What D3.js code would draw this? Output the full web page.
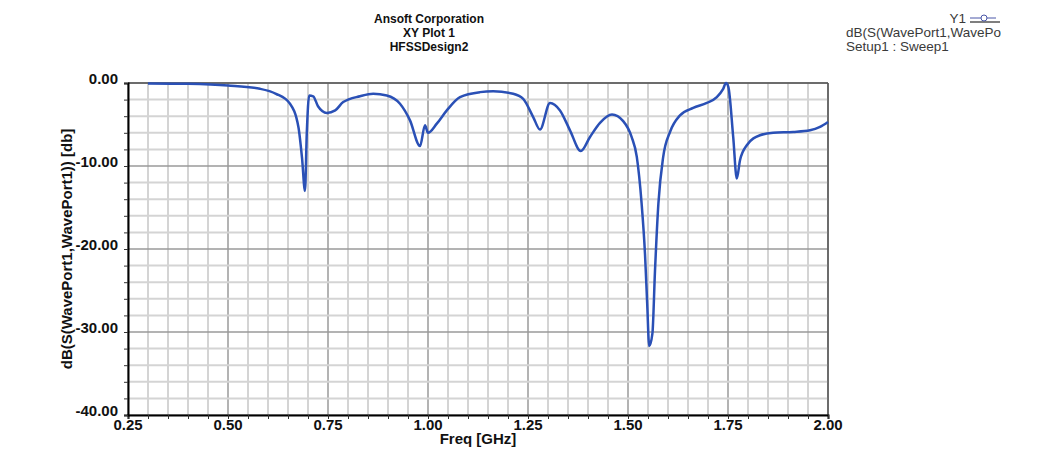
<!DOCTYPE html>
<html>
<head>
<meta charset="utf-8">
<script src="https://cdn.jsdelivr.net/npm/d3@7"></script>
<style>
  body { margin: 0; background: #fff; }
  svg { display: block; font-family: "Liberation Sans", Arial, sans-serif; }
  .tick-label { font-size: 15px; font-weight: bold; fill: #111; }
  .title { font-size: 12px; font-weight: bold; fill: #111; }
  .axis-title { font-size: 15px; font-weight: bold; fill: #111; }
  .legend { font-size: 13.5px; fill: #3a3a3a; }
</style>
</head>
<body>
<svg id="chart" width="1043" height="452"></svg>
<script>
// frequency sweep, GHz
var freq = [0.30, 0.40, 0.50, 0.58, 0.62, 0.655, 0.676, 0.685, 0.6925, 0.697, 0.703, 0.713, 0.725, 0.747, 0.768,
  0.788, 0.83, 0.863, 0.897, 0.93, 0.955, 0.98, 0.9925, 1.0, 1.022, 1.047, 1.08, 1.13, 1.163, 1.213, 1.238,
  1.263, 1.28, 1.305, 1.33, 1.355, 1.382, 1.405, 1.43, 1.46, 1.488, 1.509, 1.522, 1.534, 1.5425, 1.548, 1.553,
  1.561, 1.5675, 1.576, 1.588, 1.605, 1.63, 1.663, 1.697, 1.722, 1.738, 1.745, 1.751, 1.763, 1.772, 1.78,
  1.797, 1.83, 1.863, 1.913, 1.955, 1.98, 2.0];
// dB(S(WavePort1,WavePort1))
var s11 = [-0.05, -0.1, -0.3, -0.7, -1.3, -2.5, -5.3, -9.0, -13.0, -6.0, -1.5, -1.6, -2.8, -3.6, -3.3,
  -2.3, -1.6, -1.3, -1.5, -2.5, -4.5, -7.6, -5.1, -6.0, -4.9, -3.3, -1.7, -1.1, -1.0, -1.3, -1.9,
  -4.1, -5.6, -2.4, -3.3, -5.7, -8.2, -6.5, -4.8, -3.8, -4.6, -6.5, -8.9, -14.5, -20.6, -26.6, -31.7,
  -30.2, -22.6, -14.5, -8.9, -5.9, -3.9, -3.0, -2.4, -1.7, -0.7, 0.0, -0.5, -6.5, -11.5, -9.3,
  -7.5, -6.3, -6.0, -5.9, -5.7, -5.3, -4.7];
var xTicks = [0.25, 0.50, 0.75, 1.00, 1.25, 1.50, 1.75, 2.00];
var yTicks = [0, -10, -20, -30, -40];
var titleLines = ['Ansoft Corporation', 'XY Plot 1', 'HFSSDesign2'];
var legendLines = ['dB(S(WavePort1,WavePort1))', 'Setup1 : Sweep1'];

var svg = d3.select('#chart');
var margins = { top: 83, left: 128, right: 215, bottom: 37 };
var width = +svg.attr('width');
var height = +svg.attr('height');

var x = d3.scaleLinear().domain([0.25, 2.0]).range([margins.left, width - margins.right]);
var y = d3.scaleLinear().domain([-40, 0]).range([height - margins.bottom, margins.top]);

var minorX = d3.range(0.25, 2.0001, 0.05);
var minorY = d3.range(-40, 0.0001, 2);

// grid
var grid = svg.append('g').attr('class', 'grid');
grid.selectAll('line.gx')
  .data(minorX)
  .enter()
  .append('line')
  .attr('x1', d => x(d)).attr('x2', d => x(d))
  .attr('y1', y(0)).attr('y2', y(-40))
  .attr('stroke', (d, i) => i % 5 === 0 ? '#9a9a9a' : '#d4d4d4')
  .attr('stroke-width', (d, i) => i % 5 === 0 ? 1.5 : 2);
grid.selectAll('line.gy')
  .data(minorY)
  .enter()
  .append('line')
  .attr('y1', d => y(d)).attr('y2', d => y(d))
  .attr('x1', x(0.25)).attr('x2', x(2.0))
  .attr('stroke', (d, i) => i % 5 === 0 ? '#9a9a9a' : '#d4d4d4')
  .attr('stroke-width', (d, i) => i % 5 === 0 ? 1.5 : 2);

// frame top / right
svg.append('line')
  .attr('x1', x(0.25)).attr('x2', x(2.0)).attr('y1', y(0)).attr('y2', y(0))
  .attr('stroke', '#555').attr('stroke-width', 1.5);
svg.append('line')
  .attr('x1', x(2.0)).attr('x2', x(2.0)).attr('y1', y(0)).attr('y2', y(-40))
  .attr('stroke', '#555').attr('stroke-width', 1.5);

// axes
var xAxis = d3.axisBottom(x).tickValues(minorX).tickSize(4).tickFormat('');
var yAxis = d3.axisLeft(y).tickValues(minorY).tickSize(4).tickFormat('');

var gx = svg.append('g')
  .attr('transform', 'translate(0,' + y(-40) + ')')
  .call(xAxis);
gx.select('.domain').attr('stroke', '#000').attr('stroke-width', 2);
gx.selectAll('.tick line').attr('stroke', '#333');

var gy = svg.append('g')
  .attr('transform', 'translate(' + x(0.25) + ',0)')
  .call(yAxis);
gy.select('.domain').attr('stroke', '#000').attr('stroke-width', 2);
gy.selectAll('.tick line').attr('stroke', '#333');

svg.append('g').selectAll('text')
  .data(xTicks)
  .enter()
  .append('text')
  .attr('class', 'tick-label')
  .attr('x', d => x(d))
  .attr('y', y(-40) + 15)
  .attr('text-anchor', 'middle')
  .text(d => d.toFixed(2));

svg.append('g').selectAll('text')
  .data(yTicks)
  .enter()
  .append('text')
  .attr('class', 'tick-label')
  .attr('x', x(0.25) - 10)
  .attr('y', d => y(d) + 1)
  .attr('text-anchor', 'end')
  .text(d => d.toFixed(2));

// curve
var line = d3.line()
  .x((d, i) => x(freq[i]))
  .y(d => y(d))
  .curve(d3.curveMonotoneX);

svg.append('path')
  .datum(s11)
  .attr('d', line)
  .attr('fill', 'none')
  .attr('stroke', '#2a50b6')
  .attr('stroke-width', 2.5)
  .attr('stroke-linejoin', 'round');

// titles
svg.append('g').selectAll('text')
  .data(titleLines)
  .enter()
  .append('text')
  .attr('class', 'title')
  .attr('x', 429)
  .attr('y', (d, i) => 23 + i * 14)
  .attr('text-anchor', 'middle')
  .text(d => d);

svg.append('text')
  .attr('class', 'axis-title')
  .attr('x', (x(0.25) + x(2.0)) / 2)
  .attr('y', 444)
  .attr('text-anchor', 'middle')
  .text('Freq [GHz]');

svg.append('text')
  .attr('class', 'axis-title')
  .attr('transform', 'translate(72,' + ((y(0) + y(-40)) / 2) + ') rotate(-90)')
  .attr('text-anchor', 'middle')
  .text('dB(S(WavePort1,WavePort1)) [db]');

// legend
svg.append('clipPath').attr('id', 'legend-clip')
  .append('rect').attr('x', 840).attr('y', 0).attr('width', 161).attr('height', 60);

var legend = svg.append('g').attr('clip-path', 'url(#legend-clip)');
legend.append('text')
  .attr('class', 'legend')
  .attr('x', 966).attr('y', 23)
  .attr('text-anchor', 'end')
  .text('Y1');
legend.append('line')
  .attr('x1', 970).attr('x2', 996).attr('y1', 18).attr('y2', 18)
  .attr('stroke', '#4a56a8').attr('stroke-width', 1);
legend.append('line')
  .attr('x1', 970).attr('x2', 1000).attr('y1', 22).attr('y2', 22)
  .attr('stroke', '#555').attr('stroke-width', 1.5);
legend.append('circle')
  .attr('cx', 984).attr('cy', 18).attr('r', 3)
  .attr('fill', '#fff').attr('stroke', '#4a56a8');
legend.selectAll('text.ll')
  .data(legendLines)
  .enter()
  .append('text')
  .attr('class', 'legend ll')
  .attr('x', 846)
  .attr('y', (d, i) => 37 + i * 14)
  .text(d => d);
</script>
</body>
</html>
